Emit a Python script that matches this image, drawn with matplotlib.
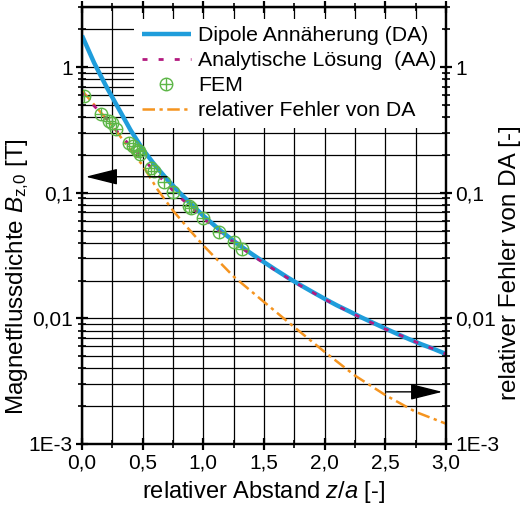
import matplotlib
matplotlib.use('Agg')
import matplotlib.pyplot as plt
import matplotlib.ticker as mticker
from matplotlib.legend_handler import HandlerTuple
import numpy as np

plt.rcParams['font.family'] = 'Liberation Sans'
plt.rcParams['font.size'] = 15
plt.rcParams['mathtext.fontset'] = 'custom'
plt.rcParams['mathtext.rm'] = 'Liberation Sans'
plt.rcParams['mathtext.it'] = 'Liberation Sans:italic'

# Dipole approximation (DA)
z_da = [0.0, 0.1, 0.2, 0.3, 0.4, 0.5, 0.6, 0.7, 0.8, 0.9, 1.0,
        1.1, 1.2, 1.3, 1.4, 1.5, 1.6, 1.7, 1.8, 1.9, 2.0,
        2.1, 2.2, 2.3, 2.4, 2.5, 2.6, 2.7, 2.8, 2.9, 3.0]
b_da = [1.78, 1.08, 0.70, 0.47, 0.315, 0.222, 0.166, 0.128, 0.101, 0.081, 0.0655,
        0.054, 0.045, 0.038, 0.0325, 0.028, 0.0242, 0.021, 0.0184, 0.0162, 0.0143,
        0.0127, 0.0114, 0.0102, 0.0092, 0.0083, 0.0075, 0.0068, 0.0062, 0.0057, 0.0052]

# Analytical solution (AA)
z_aa = [0.0, 0.1, 0.2, 0.3, 0.4, 0.5, 0.6, 0.7, 0.8, 0.9, 1.0,
        1.1, 1.2, 1.3, 1.4, 1.5, 1.6, 1.7, 1.8, 1.9, 2.0,
        2.1, 2.2, 2.3, 2.4, 2.5, 2.6, 2.7, 2.8, 2.9, 3.0]
b_aa = [0.62, 0.49, 0.39, 0.30, 0.235, 0.188, 0.147, 0.116, 0.093, 0.0765, 0.0625,
        0.052, 0.0437, 0.0372, 0.0318, 0.0275, 0.0239, 0.0208, 0.0182, 0.0161, 0.0142,
        0.0126, 0.0113, 0.0101, 0.0091, 0.0082, 0.0075, 0.0068, 0.0062, 0.0057, 0.0052]

# FEM results
z_fem = [0.02, 0.16, 0.22, 0.245, 0.28, 0.39, 0.42, 0.45, 0.47, 0.48,
         0.565, 0.59, 0.675, 0.75, 0.88, 0.90, 1.0, 1.13, 1.25, 1.32]
b_fem = [0.59, 0.42, 0.375, 0.36, 0.32, 0.25, 0.235, 0.22, 0.213, 0.205,
         0.158, 0.149, 0.121, 0.102, 0.078, 0.075, 0.063, 0.049, 0.0405, 0.0355]

# relative error of DA
z_err = [0.0, 0.125, 0.25, 0.375, 0.5, 0.625, 0.75, 0.875, 1.0, 1.25, 1.5,
         1.75, 2.0, 2.25, 2.5, 2.75, 3.0]
err = [0.65, 0.47, 0.34, 0.235, 0.165, 0.105, 0.072, 0.052, 0.038, 0.0215, 0.0135,
       0.0085, 0.0054, 0.0035, 0.00245, 0.0018, 0.00145]

x_ticks = [0.0, 0.5, 1.0, 1.5, 2.0, 2.5, 3.0]
x_labels = ['0,0', '0,5', '1,0', '1,5', '2,0', '2,5', '3,0']
y_ticks = [1e-3, 1e-2, 1e-1, 1]
y_labels = ['1E-3', '0,01', '0,1', '1']

c_da = '#1f9ddb'
c_aa = '#b3197f'
c_fem = '#5cb646'
c_err = '#f5941f'

fig = plt.figure(figsize=(5.24, 5.14), dpi=100)
ax = fig.add_axes([0.1565, 0.1362, 0.6947, 0.850])

ax.set_yscale('log')
ax.set_xlim(0, 3)
ax.set_ylim(1e-3, 3.0)

l_da, = ax.plot(z_da, b_da, color=c_da, lw=3.2, solid_capstyle='butt', zorder=3)
l_aa, = ax.plot(z_aa, b_aa, color=c_aa, lw=2.0, dashes=(1.8, 4.0), zorder=4)
m_o, = ax.plot(z_fem, b_fem, 'o', ms=9, mfc='none', mec=c_fem, mew=1.0, zorder=5)
m_p, = ax.plot(z_fem, b_fem, '+', ms=8, mec=c_fem, mew=1.0, zorder=5)
l_err, = ax.plot(z_err, err, color=c_err, lw=1.8, dashes=(5.0, 1.8, 1.3, 1.8), zorder=3)

ax.xaxis.set_major_locator(mticker.FixedLocator(x_ticks))
ax.xaxis.set_major_formatter(mticker.FixedFormatter(x_labels))
ax.xaxis.set_minor_locator(mticker.MultipleLocator(0.25))
ax.yaxis.set_major_locator(mticker.FixedLocator(y_ticks))
ax.yaxis.set_major_formatter(mticker.FixedFormatter(y_labels))
ax.yaxis.set_minor_locator(mticker.LogLocator(base=10, subs=np.arange(2, 10), numticks=20))
ax.yaxis.set_minor_formatter(mticker.NullFormatter())

ax.grid(True, which='both', axis='both', color='black', lw=0.9)
ax.set_axisbelow(True)

for sp in ax.spines.values():
    sp.set_linewidth(1.6)

ax.tick_params(axis='both', which='major', direction='inout', length=9, width=1.6,
               labelsize=15, pad=2)
ax.tick_params(axis='both', which='minor', direction='inout', length=6, width=1.2)
ax.tick_params(axis='x', which='both', top=True, labeltop=False)

ax.set_xlabel(r'relativer Abstand $\mathit{z/a}$ [-]', fontsize=17, labelpad=5)
ax.set_ylabel(r'Magnetflussdichte $\mathit{B}_{\mathrm{z{,}0}}$ [T]', fontsize=17.5)
ax.yaxis.set_label_coords(-0.14, 0.384)

ax2 = ax.twinx()
ax2.set_yscale('log')
ax2.set_ylim(ax.get_ylim())
ax2.yaxis.set_major_locator(mticker.FixedLocator(y_ticks))
ax2.yaxis.set_major_formatter(mticker.FixedFormatter(y_labels))
ax2.yaxis.set_minor_locator(mticker.LogLocator(base=10, subs=np.arange(2, 10), numticks=20))
ax2.yaxis.set_minor_formatter(mticker.NullFormatter())
ax2.tick_params(axis='y', which='major', direction='inout', length=9, width=1.6,
                labelsize=15, pad=2)
ax2.tick_params(axis='y', which='minor', direction='inout', length=6, width=1.2)
for sp in ax2.spines.values():
    sp.set_linewidth(1.6)
ax2.set_ylabel('relativer Fehler von DA [-]', fontsize=17.5, rotation=90)
ax2.yaxis.set_label_coords(1.146, 0.416)

# arrows pointing to the matching axis
ax.annotate('', xy=(0.03, 0.134), xytext=(0.70, 0.134),
            arrowprops=dict(arrowstyle='-|>,head_length=2.0,head_width=0.5',
                            color='black', lw=1.0, mutation_scale=10,
                            shrinkA=0, shrinkB=0), zorder=6)
ax.annotate('', xy=(2.97, 0.0026), xytext=(2.51, 0.0026),
            arrowprops=dict(arrowstyle='-|>,head_length=2.0,head_width=0.5',
                            color='black', lw=1.0, mutation_scale=10,
                            shrinkA=0, shrinkB=0), zorder=6)

leg = ax.legend([l_da, l_aa, (m_o, m_p), l_err],
                ['Dipole Annäherung (DA)', 'Analytische Lösung  (AA)', 'FEM',
                 'relativer Fehler von DA'],
                handler_map={tuple: HandlerTuple(ndivide=1)},
                loc='upper right', bbox_to_anchor=(1.0, 0.978), fontsize=15.3,
                frameon=True, fancybox=False, framealpha=1.0, facecolor='white',
                edgecolor='none', handlelength=2.3, handletextpad=0.35,
                labelspacing=0.28, borderpad=0.35, borderaxespad=0.1)
leg.set_zorder(10)

fig.savefig('out.png', dpi=100)
